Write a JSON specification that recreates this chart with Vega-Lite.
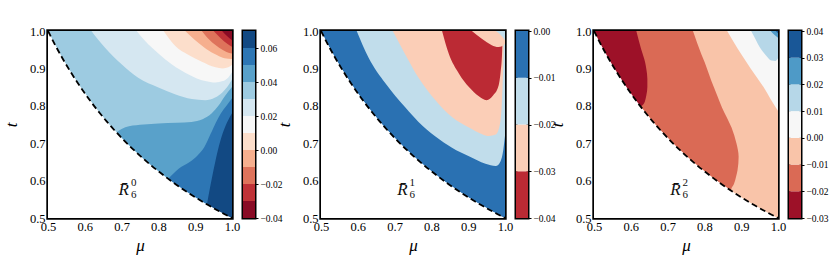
{
"$schema":"https://vega.github.io/schema/vega-lite/v6.json",
"background":"white",
"padding":{"left":0,"top":23,"right":5,"bottom":5},
"config":{"view":{"stroke":null},"font":"Liberation Serif",
"axis":{"grid":false,"domain":false,"labelFont":"Liberation Serif","titleFont":"Liberation Serif","labelColor":"#000","tickColor":"#000","titleColor":"#000","titleFontWeight":"normal","titleFontStyle":"italic","labelFlush":false,"labelOverlap":false,"labelBound":false,"labelFontSize":12.5,"titleFontSize":17}},
"datasets":{
"mask":[{"m":0.5,"t":1.0},{"m":0.52,"t":0.9615},{"m":0.54,"t":0.9259},{"m":0.56,"t":0.8929},{"m":0.58,"t":0.8621},{"m":0.6,"t":0.8333},{"m":0.62,"t":0.8065},{"m":0.64,"t":0.7813},{"m":0.66,"t":0.7576},{"m":0.68,"t":0.7353},{"m":0.7,"t":0.7143},{"m":0.72,"t":0.6944},{"m":0.74,"t":0.6757},{"m":0.76,"t":0.6579},{"m":0.78,"t":0.641},{"m":0.8,"t":0.625},{"m":0.82,"t":0.6098},{"m":0.84,"t":0.5952},{"m":0.86,"t":0.5814},{"m":0.88,"t":0.5682},{"m":0.9,"t":0.5556},{"m":0.92,"t":0.5435},{"m":0.94,"t":0.5319},{"m":0.96,"t":0.5208},{"m":0.98,"t":0.5102},{"m":1.0,"t":0.5}],
"p1u":[
{"k":"u1","b":"a6","m":0.618,"t":1.0},{"k":"u1","b":"a6","m":0.655,"t":0.955},{"k":"u1","b":"a6","m":0.7,"t":0.911},{"k":"u1","b":"a6","m":0.745,"t":0.875},{"k":"u1","b":"a6","m":0.8,"t":0.849},{"k":"u1","b":"a6","m":0.845,"t":0.831},{"k":"u1","b":"a6","m":0.891,"t":0.818},{"k":"u1","b":"a6","m":0.927,"t":0.815},{"k":"u1","b":"a6","m":0.954,"t":0.822},{"k":"u1","b":"a6","m":0.973,"t":0.835},{"k":"u1","b":"a6","m":0.987,"t":0.85},{"k":"u1","b":"a6","m":1.0,"t":0.87},
{"k":"u2","b":"a5","m":0.741,"t":1.0},{"k":"u2","b":"a5","m":0.764,"t":0.973},{"k":"u2","b":"a5","m":0.8,"t":0.94},{"k":"u2","b":"a5","m":0.836,"t":0.911},{"k":"u2","b":"a5","m":0.882,"t":0.884},{"k":"u2","b":"a5","m":0.927,"t":0.866},{"k":"u2","b":"a5","m":0.955,"t":0.862},{"k":"u2","b":"a5","m":0.975,"t":0.866},{"k":"u2","b":"a5","m":0.99,"t":0.876},{"k":"u2","b":"a5","m":1.0,"t":0.89},
{"k":"u3","b":"a4","m":0.814,"t":1.0},{"k":"u3","b":"a4","m":0.846,"t":0.96},{"k":"u3","b":"a4","m":0.882,"t":0.936},{"k":"u3","b":"a4","m":0.918,"t":0.918},{"k":"u3","b":"a4","m":0.955,"t":0.903},{"k":"u3","b":"a4","m":0.975,"t":0.9},{"k":"u3","b":"a4","m":0.99,"t":0.903},{"k":"u3","b":"a4","m":1.0,"t":0.91},
{"k":"u4","b":"a3","m":0.873,"t":1.0},{"k":"u4","b":"a3","m":0.9,"t":0.975},{"k":"u4","b":"a3","m":0.93,"t":0.952},{"k":"u4","b":"a3","m":0.96,"t":0.935},{"k":"u4","b":"a3","m":0.98,"t":0.927},{"k":"u4","b":"a3","m":1.0,"t":0.925},
{"k":"u5","b":"a2","m":0.918,"t":1.0},{"k":"u5","b":"a2","m":0.94,"t":0.975},{"k":"u5","b":"a2","m":0.965,"t":0.955},{"k":"u5","b":"a2","m":0.985,"t":0.944},{"k":"u5","b":"a2","m":1.0,"t":0.94},
{"k":"u6","b":"a1","m":0.95,"t":1.0},{"k":"u6","b":"a1","m":0.97,"t":0.98},{"k":"u6","b":"a1","m":0.988,"t":0.965},{"k":"u6","b":"a1","m":1.0,"t":0.958},
{"k":"u7","b":"a0","m":0.973,"t":1.0},{"k":"u7","b":"a0","m":0.988,"t":0.985},{"k":"u7","b":"a0","m":1.0,"t":0.975}],
"p1d":[
{"k":"d1","b":"a8","m":0.686,"t":0.729},{"k":"d1","b":"a8","m":0.7,"t":0.738},{"k":"d1","b":"a8","m":0.72,"t":0.745},{"k":"d1","b":"a8","m":0.76,"t":0.75},{"k":"d1","b":"a8","m":0.8,"t":0.753},{"k":"d1","b":"a8","m":0.85,"t":0.755},{"k":"d1","b":"a8","m":0.89,"t":0.757},{"k":"d1","b":"a8","m":0.92,"t":0.764},{"k":"d1","b":"a8","m":0.945,"t":0.78},{"k":"d1","b":"a8","m":0.963,"t":0.8},{"k":"d1","b":"a8","m":0.98,"t":0.825},{"k":"d1","b":"a8","m":1.0,"t":0.85},
{"k":"d2","b":"a9","m":0.827,"t":0.605},{"k":"d2","b":"a9","m":0.855,"t":0.632},{"k":"d2","b":"a9","m":0.885,"t":0.65},{"k":"d2","b":"a9","m":0.905,"t":0.666},{"k":"d2","b":"a9","m":0.925,"t":0.69},{"k":"d2","b":"a9","m":0.942,"t":0.725},{"k":"d2","b":"a9","m":0.956,"t":0.755},{"k":"d2","b":"a9","m":0.97,"t":0.78},{"k":"d2","b":"a9","m":0.985,"t":0.8},{"k":"d2","b":"a9","m":1.0,"t":0.82},
{"k":"d3","b":"a10","m":0.932,"t":0.537},{"k":"d3","b":"a10","m":0.941,"t":0.585},{"k":"d3","b":"a10","m":0.954,"t":0.648},{"k":"d3","b":"a10","m":0.968,"t":0.705},{"k":"d3","b":"a10","m":0.982,"t":0.745},{"k":"d3","b":"a10","m":1.0,"t":0.78}],
"p2u":[
{"k":"u1","b":"b2","m":0.597,"t":1.0},{"k":"u1","b":"b2","m":0.629,"t":0.929},{"k":"u1","b":"b2","m":0.675,"t":0.86},{"k":"u1","b":"b2","m":0.702,"t":0.826},{"k":"u1","b":"b2","m":0.73,"t":0.795},{"k":"u1","b":"b2","m":0.765,"t":0.757},{"k":"u1","b":"b2","m":0.811,"t":0.718},{"k":"u1","b":"b2","m":0.856,"t":0.688},{"k":"u1","b":"b2","m":0.902,"t":0.665},{"k":"u1","b":"b2","m":0.947,"t":0.645},{"k":"u1","b":"b2","m":0.975,"t":0.639},{"k":"u1","b":"b2","m":0.988,"t":0.652},{"k":"u1","b":"b2","m":0.995,"t":0.68},{"k":"u1","b":"b2","m":1.0,"t":0.72},
{"k":"u2","b":"b1","m":0.695,"t":1.0},{"k":"u2","b":"b1","m":0.729,"t":0.9375},{"k":"u2","b":"b1","m":0.765,"t":0.875},{"k":"u2","b":"b1","m":0.811,"t":0.815},{"k":"u2","b":"b1","m":0.856,"t":0.77},{"k":"u2","b":"b1","m":0.902,"t":0.742},{"k":"u2","b":"b1","m":0.938,"t":0.724},{"k":"u2","b":"b1","m":0.956,"t":0.719},{"k":"u2","b":"b1","m":0.975,"t":0.723},{"k":"u2","b":"b1","m":0.985,"t":0.745},{"k":"u2","b":"b1","m":0.991,"t":0.8},{"k":"u2","b":"b1","m":0.994,"t":0.87},{"k":"u2","b":"b1","m":0.996,"t":0.94},{"k":"u2","b":"b1","m":0.997,"t":1.0},
{"k":"u3","b":"b0","m":0.829,"t":1.0},{"k":"u3","b":"b0","m":0.847,"t":0.94},{"k":"u3","b":"b0","m":0.875,"t":0.886},{"k":"u3","b":"b0","m":0.902,"t":0.85},{"k":"u3","b":"b0","m":0.928,"t":0.826},{"k":"u3","b":"b0","m":0.95,"t":0.815},{"k":"u3","b":"b0","m":0.968,"t":0.828},{"k":"u3","b":"b0","m":0.982,"t":0.852},{"k":"u3","b":"b0","m":0.988,"t":0.89},{"k":"u3","b":"b0","m":0.992,"t":0.94},{"k":"u3","b":"b0","m":0.994,"t":1.0},
{"k":"u4","b":"b1","m":0.91,"t":1.0},{"k":"u4","b":"b1","m":0.937,"t":0.979},{"k":"u4","b":"b1","m":0.964,"t":0.962},{"k":"u4","b":"b1","m":0.982,"t":0.957},{"k":"u4","b":"b1","m":0.993,"t":0.96},{"k":"u4","b":"b1","m":1.0,"t":0.965},
{"k":"u5","b":"b2","m":0.975,"t":1.0},{"k":"u5","b":"b2","m":0.988,"t":0.99},{"k":"u5","b":"b2","m":1.0,"t":0.975}],
"p3l":[
{"k":"l1","b":"c0","t":0.799,"m":0.629},{"k":"l1","b":"c0","t":0.805,"m":0.635},{"k":"l1","b":"c0","t":0.827,"m":0.642},{"k":"l1","b":"c0","t":0.85,"m":0.645},{"k":"l1","b":"c0","t":0.872,"m":0.645},{"k":"l1","b":"c0","t":0.9,"m":0.642},{"k":"l1","b":"c0","t":0.916,"m":0.639},{"k":"l1","b":"c0","t":0.952,"m":0.628},{"k":"l1","b":"c0","t":1.0,"m":0.615}],
"p3r":[
{"k":"r1","b":"c2","t":0.5,"m":0.873},{"k":"r1","b":"c2","t":0.577,"m":0.873},{"k":"r1","b":"c2","t":0.59,"m":0.88},{"k":"r1","b":"c2","t":0.61,"m":0.886},{"k":"r1","b":"c2","t":0.628,"m":0.89},{"k":"r1","b":"c2","t":0.664,"m":0.893},{"k":"r1","b":"c2","t":0.7,"m":0.887},{"k":"r1","b":"c2","t":0.741,"m":0.874},{"k":"r1","b":"c2","t":0.795,"m":0.848},{"k":"r1","b":"c2","t":0.827,"m":0.835},{"k":"r1","b":"c2","t":0.866,"m":0.819},{"k":"r1","b":"c2","t":0.916,"m":0.801},{"k":"r1","b":"c2","t":0.9375,"m":0.792},{"k":"r1","b":"c2","t":1.0,"m":0.769},
{"k":"r2","b":"c3","t":0.787,"m":1.0},{"k":"r2","b":"c3","t":0.8,"m":0.991},{"k":"r2","b":"c3","t":0.845,"m":0.964},{"k":"r2","b":"c3","t":0.898,"m":0.927},{"k":"r2","b":"c3","t":0.952,"m":0.891},{"k":"r2","b":"c3","t":1.0,"m":0.862}],
"p3u":[
{"k":"v1","b":"c4","m":0.927,"t":1.0},{"k":"v1","b":"c4","m":0.935,"t":0.985},{"k":"v1","b":"c4","m":0.945,"t":0.966},{"k":"v1","b":"c4","m":0.955,"t":0.95},{"k":"v1","b":"c4","m":0.968,"t":0.934},{"k":"v1","b":"c4","m":0.982,"t":0.921},{"k":"v1","b":"c4","m":0.993,"t":0.92},{"k":"v1","b":"c4","m":1.0,"t":0.927},
{"k":"v2","b":"c5","m":0.98,"t":1.0},{"k":"v2","b":"c5","m":0.99,"t":0.99},{"k":"v2","b":"c5","m":1.0,"t":0.982},
{"k":"v3","b":"c6","m":0.994,"t":1.0},{"k":"v3","b":"c6","m":1.0,"t":0.994}],
"cb1":[{"b":"a0","lo":-0.04,"hi":-0.03},{"b":"a1","lo":-0.03,"hi":-0.02},{"b":"a2","lo":-0.02,"hi":-0.01},{"b":"a3","lo":-0.01,"hi":0.0},{"b":"a4","lo":0.0,"hi":0.01},{"b":"a5","lo":0.01,"hi":0.02},{"b":"a6","lo":0.02,"hi":0.03},{"b":"a7","lo":0.03,"hi":0.04},{"b":"a8","lo":0.04,"hi":0.05},{"b":"a9","lo":0.05,"hi":0.06},{"b":"a10","lo":0.06,"hi":0.07}],
"cb2":[{"b":"b0","lo":-0.04,"hi":-0.03},{"b":"b1","lo":-0.03,"hi":-0.02},{"b":"b2","lo":-0.02,"hi":-0.01},{"b":"b3","lo":-0.01,"hi":0.0}],
"cb3":[{"b":"c0","lo":-0.03,"hi":-0.02},{"b":"c1","lo":-0.02,"hi":-0.01},{"b":"c2","lo":-0.01,"hi":0.0},{"b":"c3","lo":0.0,"hi":0.01},{"b":"c4","lo":0.01,"hi":0.02},{"b":"c5","lo":0.02,"hi":0.03},{"b":"c6","lo":0.03,"hi":0.04}]
},
"spacing":11,
"bounds":"flush",
"resolve":{"scale":{"color":"independent"}},
"hconcat":[
{"width":184,"height":187,"view":{"stroke":"black","strokeWidth":3.4},
"encoding":{"x":{"field":"m","type":"quantitative","stack":null,"scale":{"domain":[0.5,1],"nice":false,"zero":false},"axis":{"values":[0.5,0.6,0.7,0.8,0.9,1],"format":".1f","title":"μ","tickSize":-4,"labelPadding":6,"titlePadding":5}},
"y":{"field":"t","type":"quantitative","stack":null,"scale":{"domain":[0.5,1],"nice":false,"zero":false},"axis":{"values":[0.5,0.6,0.7,0.8,0.9,1],"format":".1f","title":"t","tickSize":-4,"labelPadding":7,"titlePadding":9}}},
"layer":[
{"data":{"name":"mask"},"mark":{"type":"area","color":"#9dcbe1","interpolate":"monotone"},"encoding":{"y2":{"datum":1}}},
{"data":{"name":"p1u"},"mark":{"type":"area","interpolate":"monotone"},"encoding":{"y2":{"datum":1},"detail":{"field":"k"},"color":{"field":"b","type":"nominal","legend":null,"scale":{"domain":["a0","a1","a2","a3","a4","a5","a6","a7","a8","a9","a10"],"range":["#890b25","#bf3237","#de735b","#f6af8e","#fcdecb","#f7f7f7","#d5e7f1","#9dcbe1","#59a1ca","#2d76b4","#124983"]}}}},
{"data":{"name":"p1d"},"mark":{"type":"area","interpolate":"monotone"},"encoding":{"y2":{"datum":0.5},"detail":{"field":"k"},"color":{"field":"b","type":"nominal","legend":null}}},
{"data":{"name":"mask"},"mark":{"type":"area","color":"white","interpolate":"monotone"},"encoding":{"y2":{"datum":0.5}}},
{"data":{"name":"mask"},"mark":{"type":"line","color":"black","strokeDash":[6,3.5],"strokeWidth":1.8,"interpolate":"monotone"},"encoding":{}},
{"data":{"values":[{"m":0.706,"t":0.574}]},"mark":{"type":"text","text":"R\u0304","fontStyle":"italic","fontSize":17,"color":"#111"},"encoding":{}},
{"data":{"values":[{"m":0.706,"t":0.574}]},"mark":{"type":"text","text":"0","fontSize":11,"dx":10,"dy":-7,"color":"#111"},"encoding":{}},
{"data":{"values":[{"m":0.706,"t":0.574}]},"mark":{"type":"text","text":"6","fontSize":11,"dx":10,"dy":5,"color":"#111"},"encoding":{}}
]},
{"width":12,"height":187,"view":{"stroke":"black","strokeWidth":3},
"data":{"name":"cb1"},"mark":"rect","encoding":{"y":{"field":"lo","type":"quantitative","scale":{"domain":[-0.04,0.07],"nice":false,"zero":false},"axis":{"orient":"right","values":[-0.04,-0.02,0,0.02,0.04,0.06],"format":".2f","title":null,"tickSize":3,"labelFontSize":9.5,"labelPadding":2,"labelOverlap":false}},"y2":{"field":"hi"},"color":{"field":"b","type":"nominal","legend":null,"scale":{"domain":["a0","a1","a2","a3","a4","a5","a6","a7","a8","a9","a10"],"range":["#890b25","#bf3237","#de735b","#f6af8e","#fcdecb","#f7f7f7","#d5e7f1","#9dcbe1","#59a1ca","#2d76b4","#124983"]}}}},
{"width":44,"height":187,"data":{"values":[]},"mark":"point"},
{"width":184,"height":187,"view":{"stroke":"black","strokeWidth":3.4},
"encoding":{"x":{"field":"m","type":"quantitative","stack":null,"scale":{"domain":[0.5,1],"nice":false,"zero":false},"axis":{"values":[0.5,0.6,0.7,0.8,0.9,1],"format":".1f","title":"μ","tickSize":-4,"labelPadding":6,"titlePadding":5}},
"y":{"field":"t","type":"quantitative","stack":null,"scale":{"domain":[0.5,1],"nice":false,"zero":false},"axis":{"values":[0.5,0.6,0.7,0.8,0.9,1],"format":".1f","title":"t","tickSize":-4,"labelPadding":7,"titlePadding":9}}},
"layer":[
{"data":{"name":"mask"},"mark":{"type":"area","color":"#2a71b2","interpolate":"monotone"},"encoding":{"y2":{"datum":1}}},
{"data":{"name":"p2u"},"mark":{"type":"area","interpolate":"monotone"},"encoding":{"y2":{"datum":1},"detail":{"field":"k"},"color":{"field":"b","type":"nominal","legend":null,"scale":{"domain":["b0","b1","b2","b3"],"range":["#bb2a34","#fbceb7","#c1ddeb","#2a71b2"]}}}},
{"data":{"name":"mask"},"mark":{"type":"area","color":"white","interpolate":"monotone"},"encoding":{"y2":{"datum":0.5}}},
{"data":{"name":"mask"},"mark":{"type":"line","color":"black","strokeDash":[6,3.5],"strokeWidth":1.8,"interpolate":"monotone"},"encoding":{}},
{"data":{"values":[{"m":0.721,"t":0.574}]},"mark":{"type":"text","text":"R\u0304","fontStyle":"italic","fontSize":17,"color":"#111"},"encoding":{}},
{"data":{"values":[{"m":0.721,"t":0.574}]},"mark":{"type":"text","text":"1","fontSize":11,"dx":10,"dy":-7,"color":"#111"},"encoding":{}},
{"data":{"values":[{"m":0.721,"t":0.574}]},"mark":{"type":"text","text":"6","fontSize":11,"dx":10,"dy":5,"color":"#111"},"encoding":{}}
]},
{"width":12,"height":187,"view":{"stroke":"black","strokeWidth":3},
"data":{"name":"cb2"},"mark":"rect","encoding":{"y":{"field":"lo","type":"quantitative","scale":{"domain":[-0.04,0],"nice":false,"zero":false},"axis":{"orient":"right","values":[-0.04,-0.03,-0.02,-0.01,0],"format":".2f","title":null,"tickSize":3,"labelFontSize":9.5,"labelPadding":2,"labelOverlap":false}},"y2":{"field":"hi"},"color":{"field":"b","type":"nominal","legend":null,"scale":{"domain":["b0","b1","b2","b3"],"range":["#bb2a34","#fbceb7","#c1ddeb","#2a71b2"]}}}},
{"width":44,"height":187,"data":{"values":[]},"mark":"point"},
{"width":184,"height":187,"view":{"stroke":"black","strokeWidth":3.4},
"encoding":{"x":{"field":"m","type":"quantitative","stack":null,"scale":{"domain":[0.5,1],"nice":false,"zero":false},"axis":{"values":[0.5,0.6,0.7,0.8,0.9,1],"format":".1f","title":"μ","tickSize":-4,"labelPadding":6,"titlePadding":5}},
"y":{"field":"t","type":"quantitative","stack":null,"scale":{"domain":[0.5,1],"nice":false,"zero":false},"axis":{"values":[0.5,0.6,0.7,0.8,0.9,1],"format":".1f","title":"t","tickSize":-4,"labelPadding":7,"titlePadding":9}}},
"layer":[
{"data":{"name":"mask"},"mark":{"type":"area","color":"#da6a55","interpolate":"monotone"},"encoding":{"y2":{"datum":1}}},
{"data":{"name":"p3l"},"mark":{"type":"area","orient":"horizontal","interpolate":"monotone"},"encoding":{"x2":{"datum":0.5},"detail":{"field":"k"},"color":{"field":"b","type":"nominal","legend":null,"scale":{"domain":["c0","c1","c2","c3","c4","c5","c6"],"range":["#9d1128","#da6a55","#f9c4a9","#f7f7f7","#b6d7e8","#4e9ac7","#195797"]}}}},
{"data":{"name":"p3r"},"mark":{"type":"area","orient":"horizontal","interpolate":"monotone"},"encoding":{"x2":{"datum":1},"detail":{"field":"k"},"color":{"field":"b","type":"nominal","legend":null}}},
{"data":{"name":"p3u"},"mark":{"type":"area","interpolate":"monotone"},"encoding":{"y2":{"datum":1},"detail":{"field":"k"},"color":{"field":"b","type":"nominal","legend":null}}},
{"data":{"name":"mask"},"mark":{"type":"area","color":"white","interpolate":"monotone"},"encoding":{"y2":{"datum":0.5}}},
{"data":{"name":"mask"},"mark":{"type":"line","color":"black","strokeDash":[6,3.5],"strokeWidth":1.8,"interpolate":"monotone"},"encoding":{}},
{"data":{"values":[{"m":0.721,"t":0.574}]},"mark":{"type":"text","text":"R\u0304","fontStyle":"italic","fontSize":17,"color":"#111"},"encoding":{}},
{"data":{"values":[{"m":0.721,"t":0.574}]},"mark":{"type":"text","text":"2","fontSize":11,"dx":10,"dy":-7,"color":"#111"},"encoding":{}},
{"data":{"values":[{"m":0.721,"t":0.574}]},"mark":{"type":"text","text":"6","fontSize":11,"dx":10,"dy":5,"color":"#111"},"encoding":{}}
]},
{"width":12,"height":187,"view":{"stroke":"black","strokeWidth":3},
"data":{"name":"cb3"},"mark":"rect","encoding":{"y":{"field":"lo","type":"quantitative","scale":{"domain":[-0.03,0.04],"nice":false,"zero":false},"axis":{"orient":"right","values":[-0.03,-0.02,-0.01,0,0.01,0.02,0.03,0.04],"format":".2f","title":null,"tickSize":3,"labelFontSize":9.5,"labelPadding":2,"labelOverlap":false}},"y2":{"field":"hi"},"color":{"field":"b","type":"nominal","legend":null,"scale":{"domain":["c0","c1","c2","c3","c4","c5","c6"],"range":["#9d1128","#da6a55","#f9c4a9","#f7f7f7","#b6d7e8","#4e9ac7","#195797"]}}}}
]
}
